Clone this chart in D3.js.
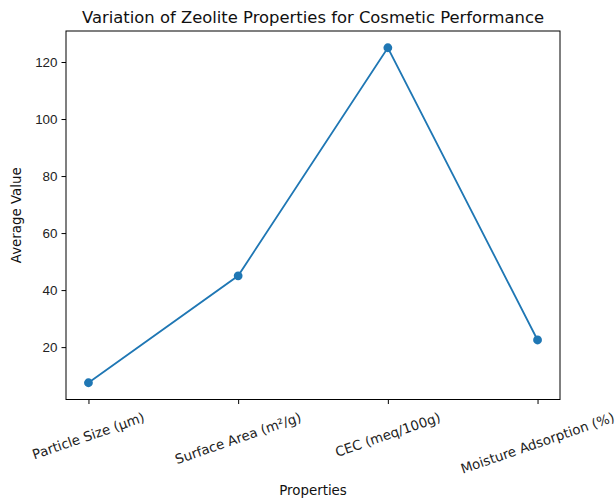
<!DOCTYPE html>
<html>
<head>
<meta charset="utf-8">
<script src="https://cdn.jsdelivr.net/npm/d3@7"></script>
<style>
  body { margin: 0; background: #fff; }
  svg { font-family: "DejaVu Sans", sans-serif; }
</style>
</head>
<body>
<div id="okvir"></div>
<script>
// podaci
const svojstva = ["Particle Size (μm)", "Surface Area (m²/g)", "CEC (meq/100g)", "Moisture Adsorption (%)"]
const vrijednosti = [7.5, 45, 125, 22.5]
const yTickovi = [20, 40, 60, 80, 100, 120]

const dimenzije = {
  sirina: 616,
  visina: 501,
  margine: { top: 31, right: 56, bottom: 101.5, left: 66 },
}
dimenzije.grSirina = dimenzije.sirina - dimenzije.margine.left - dimenzije.margine.right
dimenzije.grVisina = dimenzije.visina - dimenzije.margine.top - dimenzije.margine.bottom

const velicinaFonta = 13.4

const okvir = d3.select("#okvir")
  .append("svg")
    .attr("width", dimenzije.sirina)
    .attr("height", dimenzije.visina)

const granice = okvir.append("g")
    .attr("transform", `translate(${dimenzije.margine.left},${dimenzije.margine.top})`)

// skale (matplotlib margine 5%)
const n = svojstva.length
const xSkala = d3.scaleLinear()
  .domain([-0.05 * (n - 1), (n - 1) * 1.05])
  .range([0, dimenzije.grSirina])

const [yMin, yMax] = d3.extent(vrijednosti)
const yPad = (yMax - yMin) * 0.05
const ySkala = d3.scaleLinear()
  .domain([yMin - yPad, yMax + yPad])
  .range([dimenzije.grVisina, 0])

// linija i tocke
const linija = d3.line()
  .x((d, i) => xSkala(i))
  .y(d => ySkala(d))

granice.append("path")
    .datum(vrijednosti)
    .attr("d", linija)
    .attr("fill", "none")
    .attr("stroke", "#1f77b4")
    .attr("stroke-width", 1.8)

granice.selectAll(".tocka")
  .data(vrijednosti)
  .join("circle")
    .attr("class", "tocka")
    .attr("cx", (d, i) => xSkala(i))
    .attr("cy", d => ySkala(d))
    .attr("r", 4.4)
    .attr("fill", "#1f77b4")

// osi
const yOs = granice.append("g")
  .call(d3.axisLeft(ySkala).tickValues(yTickovi).tickSize(4.5).tickPadding(4).tickSizeOuter(0))
yOs.select(".domain").remove()
yOs.selectAll("text").style("font-size", velicinaFonta + "px").attr("fill", "#222")

const xOs = granice.append("g")
  .attr("transform", `translate(0,${dimenzije.grVisina})`)
  .call(d3.axisBottom(xSkala).tickValues(d3.range(n)).tickSize(4.5).tickFormat("").tickSizeOuter(0))
xOs.select(".domain").remove()

// rotirane oznake
const kut = 19
const rad = kut * Math.PI / 180
const visinaTeksta = velicinaFonta * 1.17
svojstva.forEach((s, i) => {
  const t = granice.append("text")
      .text(s)
      .attr("text-anchor", "middle")
      .attr("dominant-baseline", "central")
      .style("font-size", velicinaFonta + "px")
      .attr("fill", "#222")
  const duljina = t.node().getComputedTextLength()
  const bbVisina = duljina * Math.sin(rad) + visinaTeksta * Math.cos(rad)
  const yc = dimenzije.grVisina + 10 + bbVisina / 2
  t.attr("transform", `translate(${xSkala(i)},${yc}) rotate(${-kut})`)
})

// okvir grafa
granice.append("rect")
    .attr("width", dimenzije.grSirina)
    .attr("height", dimenzije.grVisina)
    .attr("fill", "none")
    .attr("stroke", "#000")
    .attr("stroke-width", 1)

// naslovi
okvir.append("text")
    .attr("x", dimenzije.margine.left + dimenzije.grSirina / 2)
    .attr("y", 23)
    .attr("text-anchor", "middle")
    .style("font-size", "16.4px")
    .attr("fill", "#111")
    .text("Variation of Zeolite Properties for Cosmetic Performance")

okvir.append("text")
    .attr("x", dimenzije.margine.left + dimenzije.grSirina / 2)
    .attr("y", 495)
    .attr("text-anchor", "middle")
    .style("font-size", velicinaFonta + "px")
    .attr("fill", "#111")
    .text("Properties")

okvir.append("text")
    .attr("transform", `translate(21,${dimenzije.margine.top + dimenzije.grVisina / 2}) rotate(-90)`)
    .attr("text-anchor", "middle")
    .style("font-size", velicinaFonta + "px")
    .attr("fill", "#111")
    .text("Average Value")
</script>
</body>
</html>
